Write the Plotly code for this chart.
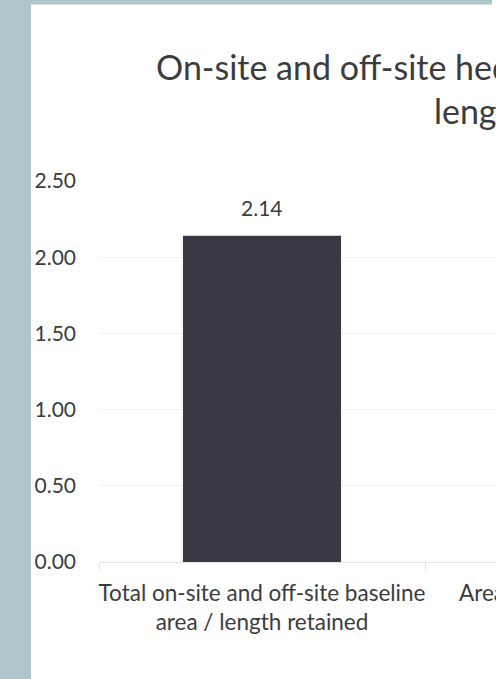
import plotly.graph_objects as go

# Chart content
title_text = "On-site and off-site hedgerow baseline area<br>length"
categories = [
    "Total on-site and off-site baseline<br>area / length retained",
    "Area / length of baseline enhanced<br>on-site and off-site",
]
values = [2.14]
y_ticks = [0.0, 0.5, 1.0, 1.5, 2.0, 2.5]

# Styling
W, H = 496, 679
ML, MR, MT, MB = 99, 0, 181, 117
FONT = "Lato"
TXT = "#3c3c3c"
BAR = "#393845"
FRAME = "#adc5cb"

plot_w = W - ML - MR
plot_h = H - MT - MB
cat_px = 326  # width of one category band


def px_x(px):
    return (px - ML) / plot_w


def px_y(py):
    return (H - MB - py) / plot_h


fig = go.Figure()
fig.add_trace(
    go.Bar(
        x=categories[: len(values)],
        y=values,
        width=0.485,
        marker=dict(color=BAR, line=dict(width=0)),
        hoverinfo="skip",
    )
)

# value labels above the bars
for c, v in zip(categories, values):
    fig.add_annotation(
        x=c, y=v, xref="x", yref="y", text=f"{v:.2f}", showarrow=False,
        yanchor="bottom", yshift=14, font=dict(family=FONT, size=21, color=TXT),
    )

# chart title (the chart is wider than the view, so it runs off the right edge)
fig.add_annotation(
    x=px_x(155), y=px_y(45), xref="paper", yref="paper",
    text=title_text, showarrow=False, xanchor="left", yanchor="top",
    align="center", borderpad=0, font=dict(family=FONT, size=34, color=TXT),
)

# label of the next category band, running off the right edge
fig.add_annotation(
    x=px_x(458), y=px_y(578), xref="paper", yref="paper",
    text=categories[1], showarrow=False, xanchor="left", yanchor="top",
    align="center", borderpad=0,
    font=dict(family=FONT, size=22.5, color=TXT),
)

# frame around the chart area
fig.add_shape(type="rect", xref="paper", yref="paper", layer="below",
              x0=px_x(0), x1=px_x(31), y0=px_y(H), y1=px_y(0),
              fillcolor=FRAME, line=dict(width=0))
fig.add_shape(type="rect", xref="paper", yref="paper", layer="below",
              x0=px_x(0), x1=px_x(492), y0=px_y(4.5), y1=px_y(0),
              fillcolor=FRAME, line=dict(width=0))

fig.update_layout(
    width=W, height=H,
    margin=dict(l=ML, r=MR, t=MT, b=MB, pad=0, autoexpand=False),
    paper_bgcolor="white", plot_bgcolor="white",
    showlegend=False,
    xaxis=dict(
        type="category", categoryorder="array", categoryarray=categories,
        range=[-0.5, -0.5 + plot_w / cat_px],
        showline=True, linecolor="#e3e3e3", linewidth=1,
        ticks="outside", ticklen=8, tickcolor="#e3e3e3", tickson="boundaries",
        showgrid=False, zeroline=False, tickangle=0, automargin=False,
        tickfont=dict(family=FONT, size=22.5, color=TXT),
        ticklabelstandoff=11,
    ),
    yaxis=dict(
        range=[0, 2.5], tickvals=y_ticks, tickformat=".2f",
        showgrid=True, gridcolor="#f0f0f0", gridwidth=1,
        zeroline=False, showline=False, ticks="", automargin=False,
        tickfont=dict(family=FONT, size=21, color=TXT),
        ticklabelstandoff=22,
    ),
)

fig.write_html("out.html")
